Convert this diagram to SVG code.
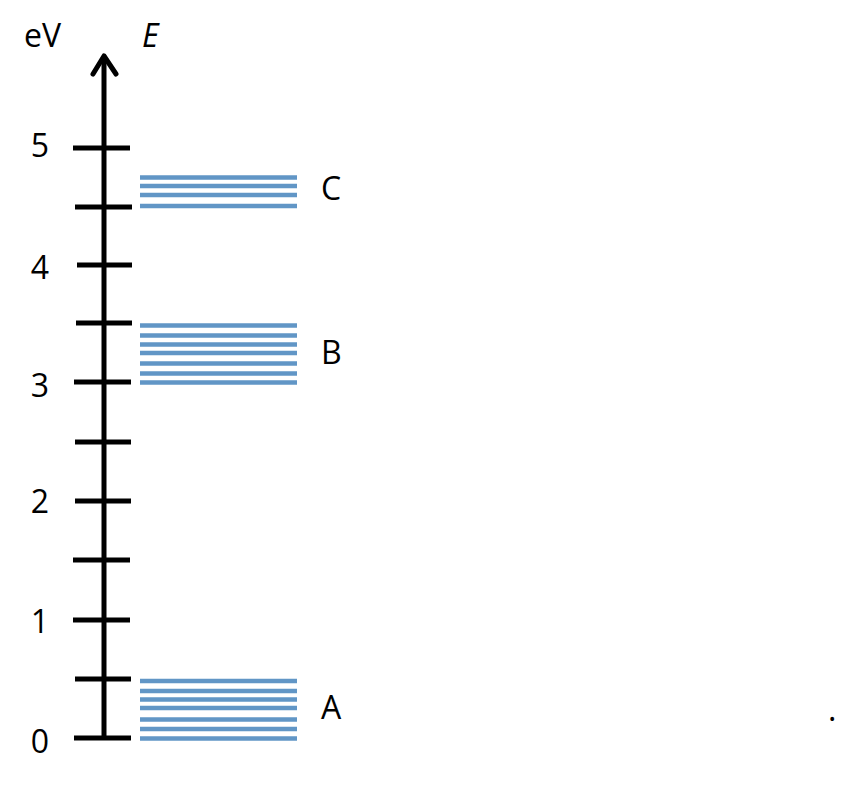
<svg xmlns="http://www.w3.org/2000/svg" width="859" height="785" viewBox="0 0 859 785">
<style>
.t{font-family:"Open Sans","Liberation Sans",sans-serif;font-size:32px;fill:#000}
.ax{stroke:#000;stroke-width:5;fill:none}
.tk{stroke:#000;stroke-width:5}
.lv{stroke:#6196C6;stroke-width:4.5}
</style>
<rect width="859" height="785" fill="#fff"/>
<g id="axis">
<line class="ax" x1="104" y1="56" x2="104" y2="740"/>
<polyline class="ax" points="93,74 104,56 116,74" stroke-linecap="round" stroke-linejoin="round"/>
<text class="t" x="24" y="47">eV</text>
<text class="t" x="142" y="47" font-style="italic">E</text>
</g>
<g id="ticks">
<line class="tk" x1="73" y1="148" x2="130" y2="148"/>
<line class="tk" x1="75" y1="207" x2="132" y2="207"/>
<line class="tk" x1="77" y1="265" x2="132" y2="265"/>
<line class="tk" x1="76" y1="323" x2="132" y2="323"/>
<line class="tk" x1="74" y1="382" x2="131" y2="382"/>
<line class="tk" x1="75" y1="442" x2="131" y2="442"/>
<line class="tk" x1="75" y1="501" x2="131" y2="501"/>
<line class="tk" x1="73" y1="560" x2="130" y2="560"/>
<line class="tk" x1="73" y1="620" x2="130" y2="620"/>
<line class="tk" x1="75" y1="679" x2="131" y2="679"/>
<line class="tk" x1="74" y1="738" x2="131" y2="738"/>
</g>
<g id="tick-labels" text-anchor="middle">
<text class="t" x="40" y="157">5</text>
<text class="t" x="40" y="279">4</text>
<text class="t" x="40" y="397">3</text>
<text class="t" x="40" y="513">2</text>
<text class="t" x="40" y="633">1</text>
<text class="t" x="40" y="753">0</text>
</g>
<g id="level-C">
<line class="lv" x1="140" y1="177.5" x2="297" y2="177.5"/>
<line class="lv" x1="140" y1="186" x2="297" y2="186"/>
<line class="lv" x1="140" y1="195" x2="297" y2="195"/>
<line class="lv" x1="140" y1="206" x2="297" y2="206"/>
<text class="t" x="321" y="200">C</text>
</g>
<g id="level-B">
<line class="lv" x1="140" y1="325.5" x2="297" y2="325.5"/>
<line class="lv" x1="140" y1="335.5" x2="297" y2="335.5"/>
<line class="lv" x1="140" y1="344.5" x2="297" y2="344.5"/>
<line class="lv" x1="140" y1="353" x2="297" y2="353"/>
<line class="lv" x1="140" y1="363.5" x2="297" y2="363.5"/>
<line class="lv" x1="140" y1="373.5" x2="297" y2="373.5"/>
<line class="lv" x1="140" y1="382.5" x2="297" y2="382.5"/>
<text class="t" x="321" y="364">B</text>
</g>
<g id="level-A">
<line class="lv" x1="140" y1="681" x2="297" y2="681"/>
<line class="lv" x1="140" y1="691" x2="297" y2="691"/>
<line class="lv" x1="140" y1="699.5" x2="297" y2="699.5"/>
<line class="lv" x1="140" y1="708" x2="297" y2="708"/>
<line class="lv" x1="140" y1="719.5" x2="297" y2="719.5"/>
<line class="lv" x1="140" y1="729" x2="297" y2="729"/>
<line class="lv" x1="140" y1="738.5" x2="297" y2="738.5"/>
<text class="t" x="321" y="719">A</text>
</g>
<text class="t" x="828" y="721">.</text>
</svg>
